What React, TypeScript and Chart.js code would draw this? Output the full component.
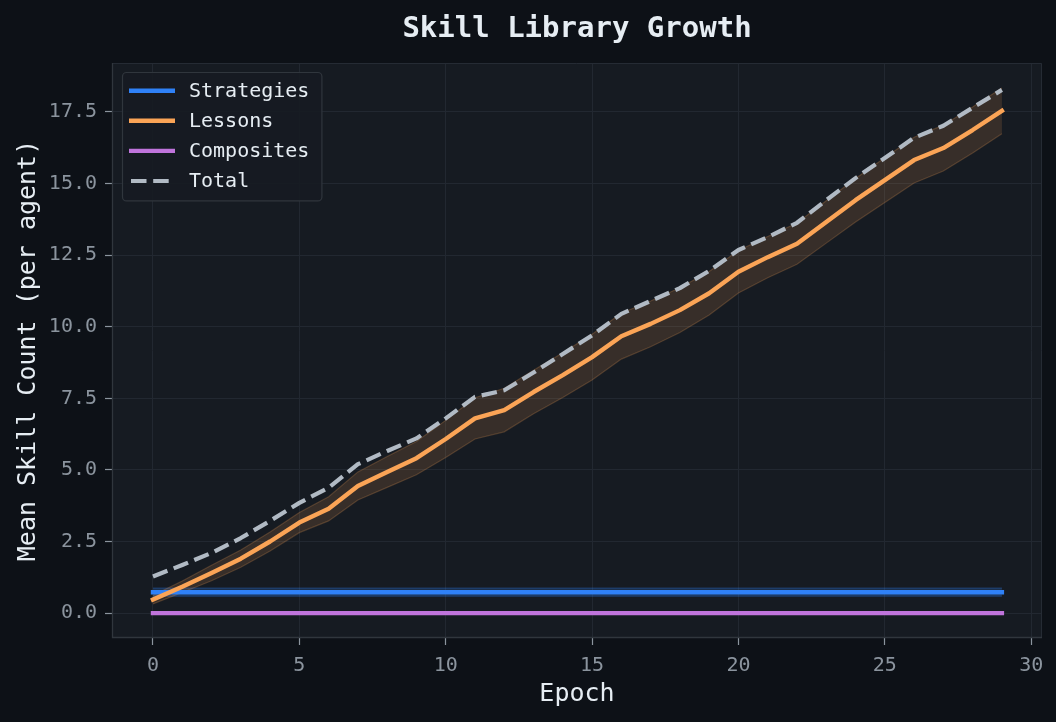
import { useEffect, useRef } from "react";
import { Chart, registerables } from "chart.js";

Chart.register(...registerables);

const MONO = '"DejaVu Sans Mono", monospace';
const BG = "#0d1117";
const PANEL = "#161b22";
const GRID = "#222831";
const SPINE = "#30363d";
const TICK = "#8b949e";
const TEXT = "#e6edf3";

const BLUE = "#2f81f7";
const ORANGE = "#fba456";
const PURPLE = "#c074dc";
const GRAY = "#b1bac4";

const epochs = [
  0, 1, 2, 3, 4, 5, 6, 7, 8, 9, 10, 11, 12, 13, 14, 15, 16, 17, 18, 19, 20, 21, 22, 23, 24, 25, 26, 27, 28, 29,
];

const strategies = [
  0.73, 0.73, 0.73, 0.73, 0.73, 0.73, 0.73, 0.73, 0.73, 0.73, 0.73, 0.73, 0.73, 0.73, 0.73,
  0.73, 0.73, 0.73, 0.73, 0.73, 0.73, 0.73, 0.73, 0.73, 0.73, 0.73, 0.73, 0.73, 0.73, 0.73,
];
const strategiesStd = [
  0.14, 0.14, 0.14, 0.14, 0.14, 0.14, 0.14, 0.14, 0.14, 0.14, 0.14, 0.14, 0.14, 0.14, 0.14,
  0.14, 0.14, 0.14, 0.14, 0.14, 0.14, 0.14, 0.14, 0.14, 0.14, 0.14, 0.14, 0.14, 0.14, 0.14,
];

const lessons = [
  0.47, 0.92, 1.4, 1.9, 2.5, 3.16, 3.64, 4.44, 4.93, 5.41, 6.08, 6.8, 7.09, 7.72, 8.31,
  8.94, 9.67, 10.1, 10.58, 11.17, 11.92, 12.43, 12.9, 13.66, 14.42, 15.12, 15.82, 16.24, 16.87, 17.54,
];
const lessonsStd = [
  0.15, 0.2, 0.27, 0.3, 0.33, 0.35, 0.42, 0.49, 0.54, 0.58, 0.65, 0.72, 0.76, 0.76, 0.78,
  0.8, 0.8, 0.8, 0.78, 0.76, 0.74, 0.72, 0.72, 0.74, 0.76, 0.78, 0.8, 0.8, 0.8, 0.8,
];

const composites = [
  0, 0, 0, 0, 0, 0, 0, 0, 0, 0, 0, 0, 0, 0, 0,
  0, 0, 0, 0, 0, 0, 0, 0, 0, 0, 0, 0, 0, 0, 0,
];

const total = [
  1.28, 1.68, 2.1, 2.62, 3.22, 3.85, 4.38, 5.2, 5.66, 6.1, 6.8, 7.55, 7.78, 8.4, 9.05,
  9.7, 10.45, 10.9, 11.35, 11.95, 12.68, 13.13, 13.63, 14.42, 15.19, 15.89, 16.6, 17.02, 17.65, 18.27,
];

const xTicks = [0, 5, 10, 15, 20, 25, 30];
const yTicks = [0, 2.5, 5, 7.5, 10, 12.5, 15, 17.5];
const legendNames = ["Strategies", "Lessons", "Composites", "Total"];

const pts = (ys: number[]) => epochs.map((x, i) => ({ x, y: ys[i] }));
const shifted = (ys: number[], sd: number[], sign: number) => epochs.map((x, i) => ({ x, y: ys[i] + sign * sd[i] }));

const panelBg = {
  id: "panelBg",
  beforeDraw(chart: any) {
    const { ctx, chartArea: a } = chart;
    ctx.save();
    ctx.fillStyle = BG;
    ctx.fillRect(0, 0, chart.width, chart.height);
    ctx.fillStyle = PANEL;
    ctx.fillRect(a.left, a.top, a.right - a.left, a.bottom - a.top);
    ctx.restore();
  },
  afterDatasetsDraw(chart: any) {
    const { ctx, chartArea: a } = chart;
    ctx.save();
    ctx.lineWidth = 1;
    ctx.strokeStyle = "#252b34";
    ctx.beginPath();
    ctx.moveTo(a.left, a.top + 0.5);
    ctx.lineTo(a.right - 0.5, a.top + 0.5);
    ctx.lineTo(a.right - 0.5, a.bottom);
    ctx.stroke();
    ctx.strokeStyle = SPINE;
    ctx.lineWidth = 1.3;
    ctx.beginPath();
    ctx.moveTo(a.left + 0.5, a.top);
    ctx.lineTo(a.left + 0.5, a.bottom - 0.5);
    ctx.lineTo(a.right, a.bottom - 0.5);
    ctx.stroke();
    ctx.restore();
  },
};

const insetLegend = {
  id: "insetLegend",
  afterDraw(chart: any) {
    const { ctx, chartArea: a } = chart;
    const x0 = a.left + 10;
    const y0 = a.top + 9;
    const rowH = 30.1;
    ctx.save();
    ctx.font = `20px ${MONO}`;
    const textW = Math.max(...legendNames.map((n) => ctx.measureText(n).width));
    const w = 67 + textW + 12;
    const h = rowH * legendNames.length + 8;
    ctx.beginPath();
    ctx.roundRect(x0 + 0.5, y0 + 0.5, w, h, 4);
    ctx.fillStyle = "rgba(22,27,34,0.9)";
    ctx.fill();
    ctx.strokeStyle = SPINE;
    ctx.lineWidth = 1.2;
    ctx.stroke();
    legendNames.forEach((name, i) => {
      const ds = chart.data.datasets.find((d: any) => d.label === name);
      const y = y0 + 18.7 + i * rowH;
      ctx.strokeStyle = ds.borderColor;
      ctx.lineWidth = ds.borderWidth;
      ctx.lineCap = "butt";
      ctx.setLineDash(ds.borderDash || []);
      ctx.lineDashOffset = ds.borderDash ? -2 : 0;
      ctx.beginPath();
      ctx.moveTo(x0 + 7, y);
      ctx.lineTo(x0 + 53, y);
      ctx.stroke();
      ctx.setLineDash([]);
      ctx.fillStyle = TEXT;
      ctx.textAlign = "left";
      ctx.textBaseline = "middle";
      ctx.fillText(name, x0 + 67, y + 1);
    });
    ctx.restore();
  },
};

export default function App() {
  const canvasRef = useRef<HTMLCanvasElement>(null);

  useEffect(() => {
    const el = canvasRef.current;
    if (!el) return;
    document.body.style.margin = "0";
    document.body.style.background = BG;

    const line = (label: string, data: number[], color: string, order: number, extra: any = {}) => ({
      label,
      data: pts(data),
      borderColor: color,
      backgroundColor: color,
      borderWidth: 4.4,
      borderCapStyle: "square",
      borderJoinStyle: "round",
      pointRadius: 0,
      fill: false,
      order,
      ...extra,
    });
    const edge = (label: string, data: any[], color: string, fill: any, bg: string) => ({
      label,
      data,
      borderColor: color,
      backgroundColor: bg,
      borderWidth: 1.2,
      pointRadius: 0,
      fill,
      order: 10,
    });

    const chart = new Chart(el, {
      type: "line",
      data: {
        datasets: [
          line("Total", total, GRAY, 0, { borderWidth: 4.2, borderDash: [15.5, 6.7], borderCapStyle: "butt" }),
          line("Lessons", lessons, ORANGE, 1),
          line("Strategies", strategies, BLUE, 2),
          line("Composites", composites, PURPLE, 3),
          edge("lessons-lo", shifted(lessons, lessonsStd, -1), "rgba(251,164,86,0.22)", false, "transparent"),
          edge("lessons-hi", shifted(lessons, lessonsStd, 1), "rgba(251,164,86,0.22)", 4, "rgba(251,164,86,0.15)"),
          edge("strat-lo", shifted(strategies, strategiesStd, -1), "rgba(47,129,247,0.3)", false, "transparent"),
          edge("strat-hi", shifted(strategies, strategiesStd, 1), "rgba(47,129,247,0.3)", 6, "rgba(47,129,247,0.2)"),
        ] as any,
      },
      options: {
        animation: false,
        responsive: true,
        maintainAspectRatio: false,
        layout: { padding: { left: 0, right: 14, top: 0, bottom: 0 } },
        plugins: {
          legend: { display: false },
          tooltip: { enabled: false },
          title: {
            display: true,
            fullSize: false,
            text: "Skill Library Growth",
            color: TEXT,
            font: { family: MONO, size: 29, weight: "bold" },
            padding: { top: 12, bottom: 16.2 },
          },
        },
        scales: {
          x: {
            type: "linear",
            min: -1.4,
            max: 30.37,
            afterBuildTicks: (s: any) => {
              s.ticks = xTicks.map((v) => ({ value: v }));
            },
            afterFit: (s: any) => {
              s.height = 84;
            },
            ticks: {
              color: TICK,
              font: { family: MONO, size: 20 },
              padding: 9,
              autoSkip: false,
              maxRotation: 0,
              callback: (v: any) => String(v),
            },
            grid: { color: GRID, lineWidth: 1, tickLength: 7, tickColor: TICK, tickWidth: 1.2 },
            border: { display: false },
            title: {
              display: true,
              text: "Epoch",
              color: TEXT,
              font: { family: MONO, size: 25 },
              padding: { top: 0, bottom: 13 },
            },
          },
          y: {
            type: "linear",
            min: -0.87,
            max: 19.21,
            afterBuildTicks: (s: any) => {
              s.ticks = yTicks.map((v) => ({ value: v }));
            },
            afterFit: (s: any) => {
              s.width = 112;
            },
            ticks: {
              color: TICK,
              font: { family: MONO, size: 20 },
              padding: 8,
              callback: (v: any) => Number(v).toFixed(1),
            },
            grid: { color: GRID, lineWidth: 1, tickLength: 7, tickColor: TICK, tickWidth: 1.2 },
            border: { display: false },
            title: {
              display: true,
              text: "Mean Skill Count (per agent)",
              color: TEXT,
              font: { family: MONO, size: 25 },
              padding: { top: 13, bottom: 0 },
            },
          },
        },
      } as any,
      plugins: [panelBg, insetLegend],
    });

    return () => chart.destroy();
  }, []);

  return (
    <div style={{ position: "fixed", left: 0, top: 0, width: 1056, height: 722, background: BG }}>
      <canvas ref={canvasRef} />
    </div>
  );
}
